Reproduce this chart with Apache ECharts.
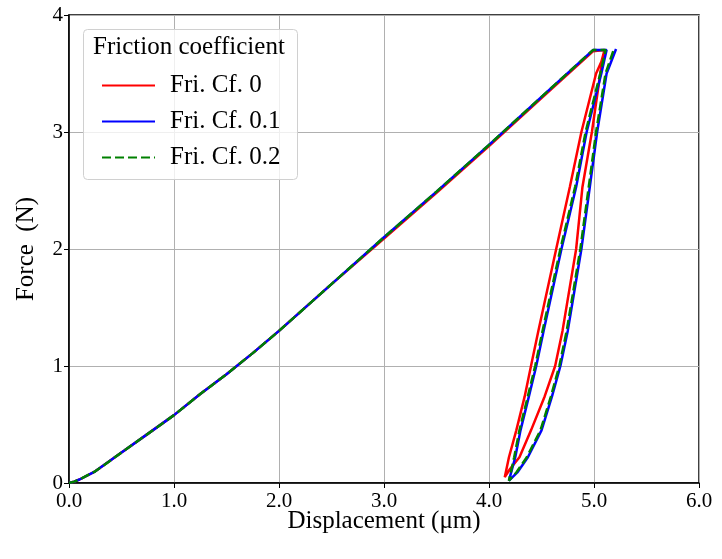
<!DOCTYPE html>
<html>
<head>
<meta charset="utf-8">
<script src="https://cdn.jsdelivr.net/npm/echarts@6/dist/echarts.min.js"></script>
<style>html,body{margin:0;padding:0;background:#fff}#c{width:722px;height:559px}</style>
</head>
<body>
<div id="c"></div>
<script>
// Loading branch (common shape), displacement (µm) and force (N)
const loadX = [0, 0.05, 0.1, 0.25, 0.5, 0.75, 1.0, 1.25, 1.5, 1.75, 2.0, 2.5, 3.0, 3.5, 4.0, 4.5, 4.99];
const loadF = [0, 0.012, 0.03, 0.10, 0.26, 0.42, 0.58, 0.76, 0.93, 1.11, 1.30, 1.70, 2.10, 2.49, 2.89, 3.30, 3.70];

// Fri. Cf. 0 : hold, down branch, up branch
const redX = [5.10, 5.07, 5.02, 4.88, 4.77, 4.64, 4.47, 4.40, 4.34, 4.26, 4.19, 4.15, 4.20, 4.29, 4.40, 4.53, 4.63, 4.70, 4.83, 4.89, 4.98, 5.06, 5.10];
const redF = [3.70, 3.60, 3.50, 3.00, 2.53, 2.00, 1.30, 1.00, 0.74, 0.45, 0.22, 0.05, 0.12, 0.22, 0.45, 0.74, 1.00, 1.30, 2.00, 2.53, 3.00, 3.50, 3.70];

// Fri. Cf. 0.1
const blueX = [5.12, 5.07, 4.93, 4.83, 4.69, 4.52, 4.45, 4.38, 4.30, 4.25, 4.19, 4.27, 4.37, 4.50, 4.60, 4.68, 4.75, 4.88, 4.96, 5.03, 5.12, 5.21];
const blueF = [3.70, 3.50, 3.00, 2.53, 2.00, 1.30, 1.00, 0.74, 0.45, 0.22, 0.02, 0.09, 0.22, 0.45, 0.74, 1.00, 1.30, 2.00, 2.53, 3.00, 3.50, 3.71];

// Fri. Cf. 0.2
const greenX = [5.11, 5.06, 4.92, 4.82, 4.68, 4.51, 4.44, 4.37, 4.29, 4.24, 4.19, 4.26, 4.36, 4.49, 4.59, 4.67, 4.74, 4.87, 4.95, 5.02, 5.11, 5.19];
const greenF = [3.70, 3.50, 3.00, 2.53, 2.00, 1.30, 1.00, 0.74, 0.45, 0.22, 0.02, 0.09, 0.22, 0.45, 0.74, 1.00, 1.30, 2.00, 2.53, 3.00, 3.50, 3.71];

const names = ['Fri. Cf. 0', 'Fri. Cf. 0.1', 'Fri. Cf. 0.2'];
const legendTitle = 'Friction coefficient';
const xTicks = ['0.0', '1.0', '2.0', '3.0', '4.0', '5.0', '6.0'];
const yTicks = ['0', '1', '2', '3', '4'];

function build(lx, lf, ex, ef, df) {
  const out = [];
  for (let i = 0; i < lx.length; i++) out.push([lx[i], lf[i] + (i > 11 ? df : 0)]);
  for (let i = 0; i < ex.length; i++) out.push([ex[i], ef[i]]);
  return out;
}

const FONT = '"Liberation Serif", "Times New Roman", serif';
const chart = echarts.init(document.getElementById('c'), null, {renderer: 'canvas'});
chart.setOption({
  animation: false,
  backgroundColor: '#fff',
  grid: {left: 69, right: 23, top: 15, bottom: 76, show: true, borderColor: '#000', borderWidth: 1.5, backgroundColor: 'transparent'},
  xAxis: {
    type: 'value', min: 0, max: 6, interval: 1,
    name: 'Displacement (μm)', nameLocation: 'middle', nameGap: 26, nameMoveOverlap: false,
    nameTextStyle: {fontFamily: FONT, fontSize: 25, color: '#000'},
    axisLine: {lineStyle: {color: '#000', width: 1.5}},
    axisTick: {show: true, inside: false, length: 5, lineStyle: {color: '#000', width: 1}},
    axisLabel: {fontFamily: FONT, fontSize: 21, color: '#000', margin: 8, formatter: v => xTicks[Math.round(v)]},
    splitLine: {show: true, lineStyle: {color: '#b0b0b0', width: 1}}
  },
  yAxis: {
    type: 'value', min: 0, max: 4, interval: 1,
    name: 'Force  (N)', nameLocation: 'middle', nameGap: 30,
    nameTextStyle: {fontFamily: FONT, fontSize: 25, color: '#000'},
    axisLine: {show: true, lineStyle: {color: '#000', width: 1.5}},
    axisTick: {show: true, inside: false, length: 5, lineStyle: {color: '#000', width: 1}},
    axisLabel: {fontFamily: FONT, fontSize: 21, color: '#000', margin: 6, formatter: v => yTicks[Math.round(v)]},
    splitLine: {show: true, lineStyle: {color: '#b0b0b0', width: 1}}
  },
  graphic: [{
    type: 'rect', left: 83, top: 29, z: 50,
    shape: {width: 214, height: 150, r: 4},
    style: {fill: 'rgba(255,255,255,0.8)', stroke: '#d0d0d0', lineWidth: 1}
  }, {
    type: 'text', left: 93, top: 35, z: 51,
    style: {text: legendTitle, font: '25px ' + FONT, fill: '#000'}
  }],
  legend: {
    orient: 'vertical', left: 96, top: 68, z: 52,
    itemWidth: 53, itemHeight: 14, itemGap: 11,
    data: names,
    itemStyle: {opacity: 0},
    textStyle: {fontFamily: FONT, fontSize: 25, color: '#000', padding: [0, 0, 0, 10]}
  },
  series: [
    {name: names[0], type: 'line', symbol: 'none', z: 3, data: build(loadX, loadF, redX, redF, -0.01),
     lineStyle: {color: '#ff0000', width: 2.5}, itemStyle: {color: '#ff0000'}},
    {name: names[1], type: 'line', symbol: 'none', z: 4, data: build(loadX, loadF, blueX, blueF, 0),
     lineStyle: {color: '#0000ff', width: 2.5}, itemStyle: {color: '#0000ff'}},
    {name: names[2], type: 'line', symbol: 'none', z: 5, data: build(loadX, loadF, greenX, greenF, 0),
     lineStyle: {color: '#008000', width: 2.5, type: [9, 4]}, itemStyle: {color: '#008000'}}
  ]
});
</script>
</body>
</html>
